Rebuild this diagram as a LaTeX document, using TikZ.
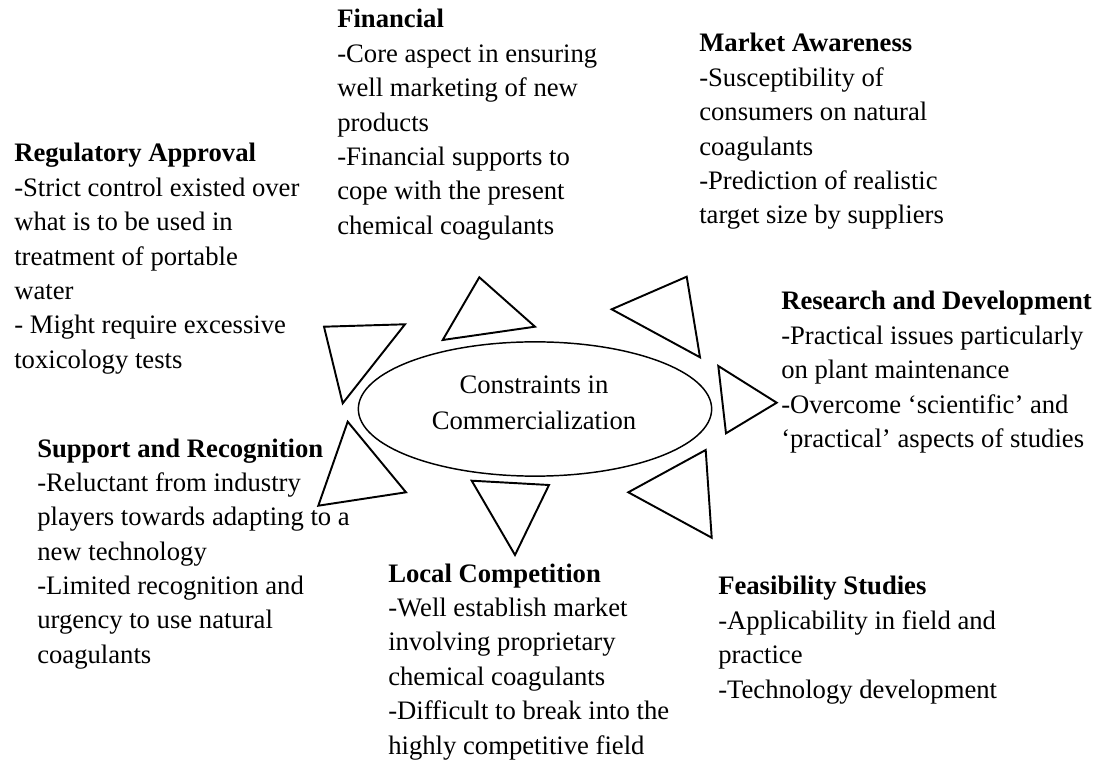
\documentclass[tikz,border=0pt]{standalone}
\usepackage{fontspec}
\setmainfont{Liberation Serif}
\usetikzlibrary{shapes.geometric}
\begin{document}
\begin{tikzpicture}[x=0.75pt,y=-0.75pt,
  % blocks are placed by the baseline of their last line
  block/.style={anchor=base west,align=left,inner sep=0pt,
    font=\fontsize{20}{25.8}\selectfont},
  tri/.style={draw=black,line width=1.45pt,line join=miter},
  hub/.style={ellipse,draw=black,line width=1.1pt,inner sep=0pt,
    minimum width=265pt,minimum height=100.7pt},
  hubtext/.style={align=center,inner sep=0pt,
    font=\fontsize{20}{27}\selectfont}]
\useasboundingbox[fill=white] (0,0) rectangle (1104,762);

% central ellipse and its caption
\node[hub] (core) at (535,409) {};
\node[hubtext] (coretext) at (534,403) {Constraints in\\Commercialization};

% pointers around the ellipse
\draw[tri] (479.3,277.3) -- (442.7,340) -- (535,326.7) -- cycle;
\draw[tri] (686.7,276.7) -- (611.7,309.3) -- (700,357.3) -- cycle;
\draw[tri] (718.3,366) -- (776.7,402.7) -- (726,433.3) -- cycle;
\draw[tri] (705.7,450) -- (628.3,492.3) -- (711.7,537.7) -- cycle;
\draw[tri] (471.7,480.7) -- (549,485) -- (515,555) -- cycle;
\draw[tri] (347.7,421.7) -- (318.3,505.7) -- (406,492.3) -- cycle;
\draw[tri] (324,326.7) -- (405,324.3) -- (342.7,403.3) -- cycle;

% constraint descriptions
\node[block] (fin) at (337,234.4) {\textbf{Financial}\\-Core aspect in ensuring\\well marketing of new\\products\\-Financial supports to\\cope with the present\\chemical coagulants};
\node[block] (mkt) at (699,224) {\textbf{Market Awareness}\\-Susceptibility of\\consumers on natural\\coagulants\\-Prediction of realistic\\target size by suppliers};
\node[block] (reg) at (14,368.4) {\textbf{Regulatory Approval}\\-Strict control existed over\\what is to be used in\\treatment of portable\\water\\- Might require excessive\\toxicology tests};
\node[block] (rnd) at (781,447.6) {\textbf{Research and Development}\\-Practical issues particularly\\on plant maintenance\\-Overcome ‘scientific’ and\\‘practical’ aspects of studies};
\node[block] (sup) at (37,663.4) {\textbf{Support and Recognition}\\-Reluctant from industry\\players towards adapting to a\\new technology\\-Limited recognition and\\urgency to use natural\\coagulants};
\node[block] (loc) at (388,754) {\textbf{Local Competition}\\-Well establish market\\involving proprietary\\chemical coagulants\\-Difficult to break into the\\highly competitive field};
\node[block] (fea) at (718,698.2) {\textbf{Feasibility Studies}\\-Applicability in field and\\practice\\-Technology development};
\end{tikzpicture}
\end{document}
